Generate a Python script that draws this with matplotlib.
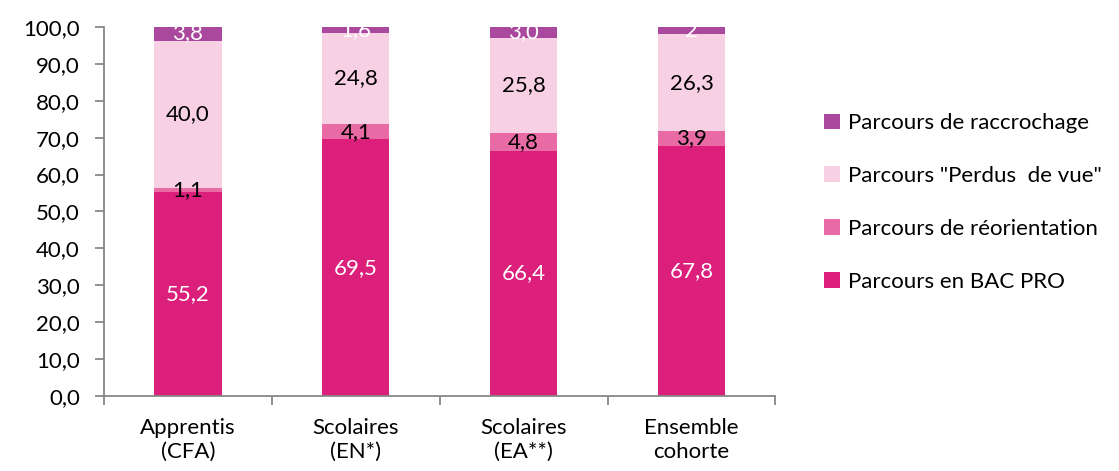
import matplotlib
matplotlib.use("Agg")
import matplotlib.pyplot as plt
import numpy as np

plt.rcParams["font.family"] = ["Lato", "DejaVu Sans"]

# Data
categories = ["Apprentis\n(CFA)", "Scolaires\n(EN*)", "Scolaires\n(EA**)", "Ensemble\ncohorte"]
series_names = ["Parcours en BAC PRO", "Parcours de réorientation",
                "Parcours \"Perdus  de vue\"", "Parcours de raccrochage"]
bac_pro = [55.2, 69.5, 66.4, 67.8]
reorientation = [1.1, 4.1, 4.8, 3.9]
perdus_de_vue = [40.0, 24.8, 25.8, 26.3]
raccrochage = [3.8, 1.6, 3.0, 2.0]
raccrochage_labels = ["3,8", "1,6", "3,0", "2"]

colors = ["#DB1F7B", "#E96BA5", "#F8D0E3", "#A9489C"]
label_colors = ["white", "black", "black", "white"]
FS = 16

series = [bac_pro, reorientation, perdus_de_vue, raccrochage]
labels = [
    [f"{v:.1f}".replace(".", ",") for v in bac_pro],
    [f"{v:.1f}".replace(".", ",") for v in reorientation],
    [f"{v:.1f}".replace(".", ",") for v in perdus_de_vue],
    raccrochage_labels,
]

fig = plt.figure(figsize=(11.19, 4.71), dpi=100)
ax = fig.add_axes([0.093, 0.159, 0.600, 0.784])

x = np.arange(len(categories))
bottom = np.zeros(len(categories))
handles = []
for vals, col, name, labs, lc in zip(series, colors, series_names, labels, label_colors):
    vals = np.array(vals)
    bars = ax.bar(x, vals, width=0.4, bottom=bottom, color=col, label=name, zorder=2)
    handles.append(bars)
    for xi, b, v, t in zip(x, bottom, vals, labs):
        ax.text(xi, b + v / 2, t, ha="center", va="center", fontsize=FS,
                color=lc, clip_on=True, zorder=3)
    bottom = bottom + vals

ax.set_xlim(-0.5, len(categories) - 0.5)
ax.set_ylim(0, 100)

yt = np.arange(0, 101, 10)
ax.set_yticks(yt)
ax.set_yticklabels([f"{v:.1f}".replace(".", ",") for v in yt], fontsize=FS)
ax.tick_params(axis="y", length=6.5, width=1.3, color="#888888", pad=11)

ax.set_xticks(x)
ax.set_xticklabels(categories, fontsize=FS, linespacing=1.2)
ax.set_xticks(np.arange(-0.5, len(categories)), minor=True)
ax.tick_params(axis="x", which="major", length=0, pad=16)
ax.tick_params(axis="x", which="minor", length=6.5, width=1.3, color="#888888")

for s in ["top", "right"]:
    ax.spines[s].set_visible(False)
for s in ["left", "bottom"]:
    ax.spines[s].set_color("#888888")
    ax.spines[s].set_linewidth(1.3)

leg = fig.legend(handles[::-1], series_names[::-1], loc="center left",
                 bbox_to_anchor=(0.728, 0.570), frameon=False, fontsize=FS,
                 borderaxespad=0, handlelength=0.72, handleheight=0.72,
                 handletextpad=0.36, labelspacing=1.48)

fig.savefig("out.png", dpi=100)
